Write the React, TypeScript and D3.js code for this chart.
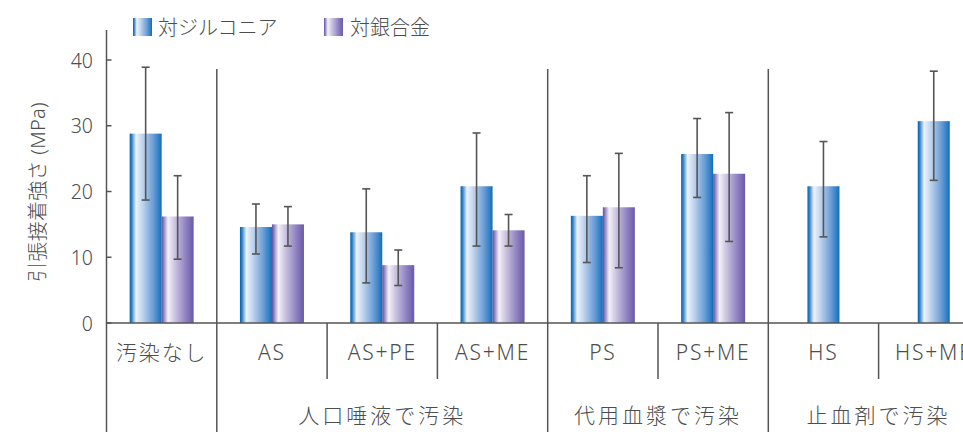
import React from "react";
import * as d3 from "d3";

const categories = ["汚染なし", "AS", "AS+PE", "AS+ME", "PS", "PS+ME", "HS", "HS+ME"];
const zirconiaMean = [28.8, 14.6, 13.8, 20.8, 16.3, 25.7, 20.8, 30.7];
const zirconiaLow = [18.7, 10.5, 6.1, 11.7, 9.2, 19.1, 13.1, 21.7];
const zirconiaHigh = [38.9, 18.1, 20.4, 28.9, 22.4, 31.1, 27.6, 38.3];
const alloyMean: (number | null)[] = [16.2, 15.0, 8.8, 14.1, 17.6, 22.7, null, null];
const alloyLow: (number | null)[] = [9.7, 11.7, 5.7, 11.7, 8.4, 12.4, null, null];
const alloyHigh: (number | null)[] = [22.4, 17.7, 11.1, 16.5, 25.8, 32.0, null, null];
const groupLabels = ["", "人口唾液で汚染", "代用血漿で汚染", "止血剤で汚染"];
const groupStarts = [0, 1, 4, 6];
const groupSizes = [1, 3, 2, 2];
const yTicks = [0, 10, 20, 30, 40];
const seriesNames = ["対ジルコニア", "対銀合金"];
const yLabel = "引張接着強さ (MPa)";

const W = 963;
const H = 432;
const FONT = "'Noto Sans', 'Noto Sans CJK JP', sans-serif";
const TXT = "#4d4d4d";
const LINE = "#555";

export default function App() {
  const axisX = 106.5;
  const step = 110.3;
  const x = d3
    .scaleBand<string>()
    .domain(categories)
    .range([axisX, axisX + step * categories.length])
    .paddingInner(0)
    .paddingOuter(0);
  const y = d3.scaleLinear().domain([0, 40]).range([323, 60]);
  const barW = 32;
  const y0 = y(0);

  const center = (c: string) => (x(c) as number) + x.bandwidth() / 2;

  const bars: React.ReactNode[] = [];
  const errs: React.ReactNode[] = [];
  const errBar = (cx: number, lo: number, hi: number, key: string) => (
    <g key={key} stroke={LINE} strokeWidth={1.6}>
      <line x1={cx} x2={cx} y1={y(lo)} y2={y(hi)} />
      <line x1={cx - 4} x2={cx + 4} y1={y(lo)} y2={y(lo)} />
      <line x1={cx - 4} x2={cx + 4} y1={y(hi)} y2={y(hi)} />
    </g>
  );
  categories.forEach((c, i) => {
    const cx = center(c);
    const hasAlloy = alloyMean[i] != null;
    const bx = hasAlloy ? cx - barW : cx - barW / 2;
    bars.push(
      <rect key={"z" + i} x={bx} y={y(zirconiaMean[i])} width={barW} height={y0 - y(zirconiaMean[i])} fill="url(#gBlue)" />
    );
    errs.push(errBar(bx + barW / 2, zirconiaLow[i], zirconiaHigh[i], "ez" + i));
    if (hasAlloy) {
      const v = alloyMean[i] as number;
      bars.push(<rect key={"a" + i} x={cx} y={y(v)} width={barW} height={y0 - y(v)} fill="url(#gPurple)" />);
      errs.push(errBar(cx + barW / 2, alloyLow[i] as number, alloyHigh[i] as number, "ea" + i));
    }
  });

  return (
    <svg
      width={W}
      height={H}
      style={{ position: "absolute", left: 0, top: 0, background: "#fff" }}
      fontFamily={FONT}
      fontWeight={300}
    >
      <defs>
        <linearGradient id="gBlue" x1="0" x2="1" y1="0" y2="0">
          <stop offset="0" stopColor="#0062b0" />
          <stop offset="0.06" stopColor="#2f80c6" />
          <stop offset="0.2" stopColor="#eef3fa" />
          <stop offset="0.38" stopColor="#c4d7ef" />
          <stop offset="0.72" stopColor="#6f9fd6" />
          <stop offset="0.93" stopColor="#2a7cc4" />
          <stop offset="1" stopColor="#0a6cb8" />
        </linearGradient>
        <linearGradient id="gPurple" x1="0" x2="1" y1="0" y2="0">
          <stop offset="0" stopColor="#5d4c9e" />
          <stop offset="0.06" stopColor="#8b7ebd" />
          <stop offset="0.2" stopColor="#f3f1f8" />
          <stop offset="0.4" stopColor="#cdc6e2" />
          <stop offset="0.75" stopColor="#9083c2" />
          <stop offset="1" stopColor="#6a59a8" />
        </linearGradient>
      </defs>

      {/* legend */}
      <rect x={133} y={18} width={19} height={18} fill="url(#gBlue)" />
      <text x={158} y={27} dominantBaseline="central" fontSize={20} fill={TXT}>{seriesNames[0]}</text>
      <rect x={324} y={18} width={19} height={18} fill="url(#gPurple)" />
      <text x={350} y={27} dominantBaseline="central" fontSize={20} fill={TXT}>{seriesNames[1]}</text>

      {/* y label */}
      <text
        transform={`translate(37,192) rotate(-90)`}
        textAnchor="middle"
        dominantBaseline="central"
        fontSize={20}
        letterSpacing={0.3}
        fill={TXT}
      >
        {yLabel}
      </text>

      {/* bars */}
      {bars}
      {errs}

      {/* axis */}
      <line x1={axisX} x2={axisX} y1={30} y2={H} stroke={LINE} strokeWidth={1.5} />
      {yTicks.map((t) => (
        <g key={t}>
          <line x1={axisX} x2={axisX + 5} y1={y(t)} y2={y(t)} stroke={LINE} strokeWidth={1.5} />
          <text x={93} y={y(t)} textAnchor="end" dominantBaseline="central" fontSize={19.5} fill={TXT}>
            {t}
          </text>
        </g>
      ))}
      <line x1={axisX} x2={W} y1={y0} y2={y0} stroke={LINE} strokeWidth={1.5} />

      {/* dividers */}
      {groupStarts.map((s, gi) => {
        const gx = x(categories[s]) as number;
        const endX = (x(categories[s + groupSizes[gi] - 1]) as number) + x.bandwidth();
        return (
          <g key={"g" + gi}>
            {gi > 0 && <line x1={gx} x2={gx} y1={69} y2={H} stroke={LINE} strokeWidth={1.5} />}
            {d3.range(1, groupSizes[gi]).map((k) => {
              const sx = x(categories[s + k]) as number;
              return <line key={k} x1={sx} x2={sx} y1={y0} y2={379} stroke={LINE} strokeWidth={1.5} />;
            })}
            {groupLabels[gi] && (
              <text
                x={(gx + endX) / 2}
                y={415}
                textAnchor="middle"
                dominantBaseline="central"
                fontSize={21}
                letterSpacing={3}
                fill={TXT}
              >
                {groupLabels[gi]}
              </text>
            )}
          </g>
        );
      })}

      {/* category labels */}
      {categories.map((c) => (
        <text
          key={c}
          x={center(c)}
          y={351.5}
          textAnchor="middle"
          dominantBaseline="central"
          fontSize={21}
          letterSpacing={1.8}
          fill={TXT}
        >
          {c}
        </text>
      ))}
    </svg>
  );
}
